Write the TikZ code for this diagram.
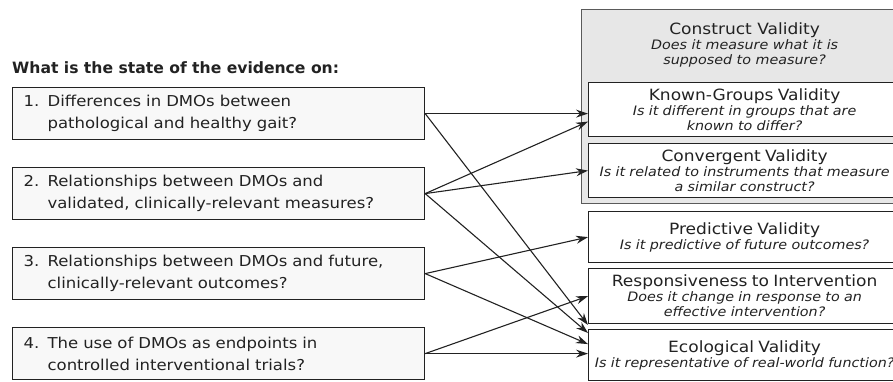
\documentclass[tikz,border=0pt]{standalone}
\usepackage{fontspec}
\setmainfont{DejaVu Sans}[FakeStretch=1.1]
\newfontfamily\headfont{DejaVu Sans}[BoldFont={DejaVu Sans Bold}]
\usetikzlibrary{calc}
\usetikzlibrary{arrows.meta}
\definecolor{ink}{RGB}{34,34,34}
\definecolor{qfill}{RGB}{248,248,248}
\definecolor{cfill}{RGB}{231,231,231}
\definecolor{cline}{RGB}{90,90,90}
\tikzset{
  qnode/.style={draw=ink, line width=1.2pt, fill=qfill, text=ink, anchor=north west,
    minimum width=412pt, minimum height=52pt, text width=390pt, inner xsep=11pt,
    align=left, font=\fontsize{15}{22}\selectfont},
  vnode/.style={draw=ink, line width=1.2pt, fill=white, text=ink, anchor=north west,
    minimum width=312pt, text width=304pt, inner sep=2pt, align=center,
    font=\fontsize{13}{15}\selectfont},
  cframe/.style={draw=cline, line width=1.2pt, fill=cfill, anchor=north west,
    minimum width=326pt, minimum height=194pt},
  link/.style={draw=ink, line width=1.1pt, -{Stealth[length=12pt,width=8pt]}}
}
\newcommand{\qnum}[1]{\makebox[24pt][l]{#1}}
\newcommand{\qbox}[4]{\node[qnode] (#1) at ( 12 , #2 ) {\qnum{#3}#4};}
\newcommand{\valbox}[5]{\node[vnode, minimum height=#3] (#1) at ( 588 , #2 )
  {{\fontsize{15.5}{15}\selectfont #4}\\\itshape #5};}

\begin{document}
\begin{tikzpicture}[x=1pt, y=-1pt]
        \useasboundingbox (0,0) rectangle (893,381);
        % heading
        \node[anchor=west, inner sep=0pt, text=ink, font=\headfont\bfseries\fontsize{15.6}{18}\selectfont]
          (head) at ( 12 , 68 ) {What is the state of the evidence on:};
        % questions
        \qbox{q1}{87}{1.}{Differences in DMOs between\\\hspace*{24pt}pathological and healthy gait?}
        \qbox{q2}{167}{2.}{Relationships between DMOs and\\\hspace*{24pt}validated, clinically-relevant measures?}
        \qbox{q3}{247}{3.}{Relationships between DMOs and future,\\\hspace*{24pt}clinically-relevant outcomes?}
        \qbox{q4}{327}{4.}{The use of DMOs as endpoints in\\\hspace*{24pt}controlled interventional trials?}
        % construct validity
        \node[cframe] (cv) at ( 581 , 9 ) {};
        \node[anchor=north, inner sep=2pt, text=ink, align=center, font=\fontsize{13}{15}\selectfont]
          (cvtext) at ([yshift=-12pt]cv.north)
          {{\fontsize{15.5}{15}\selectfont Construct Validity}\\\itshape Does it measure what it is\\\itshape supposed to measure?};
        \valbox{kg}{82}{54pt}{Known-Groups Validity}{Is it different in groups that are\\known to differ?}
        \valbox{conv}{143}{54pt}{Convergent Validity}{Is it related to instruments that measure\\a similar construct?}
        % other validities
        \valbox{pred}{211}{51pt}{Predictive Validity}{Is it predictive of future outcomes?}
        \valbox{resp}{268}{55pt}{Responsiveness to Intervention}{Does it change in response to an\\effective intervention?}
        \valbox{eco}{329}{51pt}{Ecological Validity}{Is it representative of real-world function?}
        % links
        \draw[link] (q1.east) -- (kg.west |- q1.east);
        \draw[link] (q1.east) -- ([yshift=4pt]eco.north west);
        \draw[link] (q2.east) -- ([yshift=-12pt]kg.west);
        \draw[link] (q2.east) -- (conv.west);
        \draw[link] (q2.east) -- ([yshift=-4pt]eco.north west);
        \draw[link] (q3.east) -- (pred.west);
        \draw[link] (q3.east) -- ([yshift=11pt]eco.west);
        \draw[link] (q4.east) -- (resp.west);
        \draw[link] (q4.east) -- (eco.west |- q4.east);
    \end{tikzpicture}
\end{document}
